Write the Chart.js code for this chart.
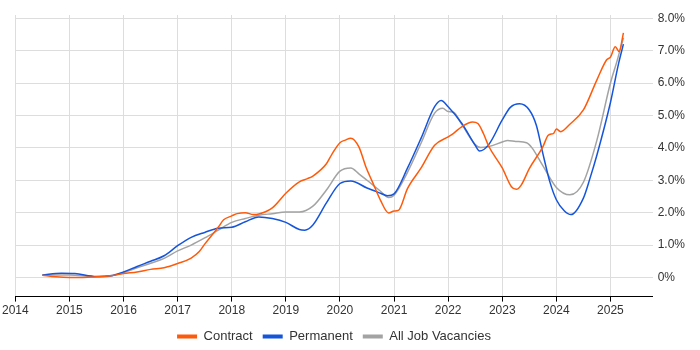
<!DOCTYPE html>
<html>
<head>
<meta charset="utf-8">
<script src="https://cdn.jsdelivr.net/npm/chart.js@4/dist/chart.umd.min.js"></script>
<style>
  html, body { margin: 0; padding: 0; background: #fff; }
  #wrap { width: 700px; height: 350px; }
</style>
</head>
<body>
<div id="wrap"><canvas id="chart" width="700" height="350"></canvas></div>
<script>
'use strict';

// Share of job ads (%). Years are decimal (2020.5 = mid 2020).
const contractYears = [2014.5, 2014.75, 2015, 2015.25, 2015.5, 2015.75, 2016, 2016.25, 2016.5, 2016.75,
  2017, 2017.25, 2017.4, 2017.5, 2017.75, 2017.85, 2018, 2018.1, 2018.25, 2018.4, 2018.5, 2018.75,
  2019, 2019.25, 2019.4, 2019.5, 2019.75, 2019.85, 2020, 2020.1, 2020.2, 2020.35, 2020.48, 2020.6,
  2020.75, 2020.9, 2021, 2021.08, 2021.25, 2021.5, 2021.75, 2022, 2022.1, 2022.25, 2022.45, 2022.55,
  2022.65, 2022.75, 2023, 2023.17, 2023.26, 2023.35, 2023.5, 2023.75, 2023.85, 2023.95, 2024,
  2024.08, 2024.25, 2024.5, 2024.75, 2024.93, 2025, 2025.09, 2025.16, 2025.24];
const contractPct = [0.07, 0.02, 0.0, 0.0, 0.02, 0.05, 0.12, 0.17, 0.25, 0.3,
  0.43, 0.6, 0.8, 1.03, 1.55, 1.78, 1.9, 1.97, 2.0, 1.94, 1.96, 2.15,
  2.6, 2.95, 3.05, 3.13, 3.51, 3.8, 4.16, 4.24, 4.3, 4.03, 3.41, 2.95,
  2.38, 1.99, 2.05, 2.07, 2.75, 3.38, 4.08, 4.34, 4.45, 4.65, 4.8, 4.75,
  4.45, 4.05, 3.38, 2.8, 2.72, 2.85, 3.36, 4.03, 4.39, 4.45, 4.58,
  4.5, 4.73, 5.17, 6.1, 6.72, 6.8, 7.12, 6.97, 7.55];

const permanentYears = [2014.5, 2014.85, 2015.1, 2015.5, 2015.75, 2016, 2016.25, 2016.5, 2016.75,
  2017, 2017.25, 2017.5, 2017.75, 2018, 2018.25, 2018.5, 2018.75, 2019, 2019.25, 2019.35, 2019.5,
  2019.75, 2020, 2020.2, 2020.5, 2020.75, 2020.88, 2021, 2021.25, 2021.5, 2021.75, 2021.87, 2022,
  2022.25, 2022.5, 2022.58, 2022.75, 2023, 2023.15, 2023.32, 2023.5, 2023.63, 2023.75, 2023.88,
  2024, 2024.15, 2024.27, 2024.5, 2024.62, 2024.75, 2025, 2025.15, 2025.24];
const permanentPct = [0.08, 0.13, 0.12, 0.03, 0.05, 0.17, 0.34, 0.5, 0.67,
  0.98, 1.24, 1.39, 1.52, 1.55, 1.72, 1.87, 1.82, 1.7, 1.48, 1.46, 1.62,
  2.3, 2.9, 2.98, 2.76, 2.6, 2.52, 2.58, 3.38, 4.3, 5.27, 5.46, 5.27,
  4.76, 4.08, 3.9, 4.1, 4.86, 5.25, 5.36, 5.17, 4.7, 3.83, 2.95,
  2.4, 2.05, 1.94, 2.45, 3.05, 3.78, 5.4, 6.6, 7.2];

const allYears = [2014.5, 2015, 2015.5, 2015.75, 2016, 2016.25, 2016.5, 2016.75, 2017, 2017.25,
  2017.5, 2017.75, 2018, 2018.25, 2018.5, 2018.75, 2019, 2019.25, 2019.5, 2019.75, 2020, 2020.2,
  2020.35, 2020.5, 2020.75, 2020.9, 2021, 2021.25, 2021.5, 2021.75, 2021.9, 2022, 2022.1, 2022.25,
  2022.5, 2022.6, 2022.75, 2023, 2023.1, 2023.25, 2023.45, 2023.55, 2023.75, 2024, 2024.25,
  2024.5, 2024.75, 2025, 2025.12, 2025.24];
const allPct = [0.08, 0.08, 0.02, 0.04, 0.15, 0.3, 0.44, 0.59, 0.82, 1.0,
  1.22, 1.46, 1.7, 1.82, 1.92, 1.97, 2.02, 2.02, 2.2, 2.7, 3.28, 3.38,
  3.2, 3.0, 2.66, 2.47, 2.54, 3.25, 4.15, 5.07, 5.22, 5.12, 5.1, 4.73,
  4.1, 4.01, 4.04, 4.18, 4.23, 4.2, 4.16, 4.0, 3.45, 2.78, 2.55,
  2.94, 4.24, 6.0, 6.67, 7.4];

const yearTicks = [2014, 2015, 2016, 2017, 2018, 2019, 2020, 2021, 2022, 2023, 2024, 2025];
const pctTicks = [0, 1, 2, 3, 4, 5, 6, 7, 8];

const INK = '#333333';
const GRID = '#dddddd';
const FONT = '"Liberation Sans", Arial, sans-serif';

function points(xs, ys) {
  return xs.map(function (x, i) { return { x: x, y: ys[i] }; });
}

function series(label, color, xs, ys) {
  return {
    label: label,
    data: points(xs, ys),
    borderColor: color,
    backgroundColor: color,
    borderWidth: 1.5,
    pointRadius: 0,
    cubicInterpolationMode: 'monotone',
    fill: false,
  };
}

function fixedTicks(values) {
  return function (scale) {
    scale.ticks = values.map(function (v) { return { value: v }; });
  };
}

new Chart(document.getElementById('chart').getContext('2d'), {
  type: 'line',
  data: {
    datasets: [
      series('Contract', '#ff5a0a', contractYears, contractPct),
      series('Permanent', '#1555dc', permanentYears, permanentPct),
      series('All Job Vacancies', '#a3a3a3', allYears, allPct),
    ],
  },
  options: {
    responsive: false,
    animation: false,
    layout: { padding: { left: 2, right: 10, top: 15, bottom: -3 } },
    plugins: {
      tooltip: { enabled: false },
      legend: {
        position: 'bottom',
        fullSize: false,   // centre the legend under the plot, not the canvas
        labels: {
          color: INK,
          font: { family: FONT, size: 13 },
          boxWidth: 20,
          boxHeight: 4,
          padding: 10,
          generateLabels: function (chart) {
            const items = Chart.defaults.plugins.legend.labels.generateLabels(chart);
            items.forEach(function (it) { it.lineWidth = 0; });
            return items;
          },
        },
      },
    },
    scales: {
      x: {
        type: 'linear',
        min: 2014,
        max: 2025.78,
        afterBuildTicks: fixedTicks(yearTicks),
        ticks: {
          color: INK,
          font: { family: FONT, size: 12 },
          maxRotation: 0,
          padding: 2,
          callback: function (v) { return String(v); },
        },
        grid: { color: GRID, tickColor: '#000', tickLength: 5 },
        border: { color: '#000', width: 1 },
      },
      y: {
        position: 'right',
        min: -0.59,
        max: 8.1,
        afterBuildTicks: fixedTicks(pctTicks),
        ticks: {
          color: INK,
          font: { family: FONT, size: 12 },
          padding: 5,
          callback: function (v) { return v === 0 ? '0%' : v.toFixed(1) + '%'; },
        },
        grid: { color: GRID, drawTicks: false },
        border: { display: false },
      },
    },
  },
});
</script>
</body>
</html>
